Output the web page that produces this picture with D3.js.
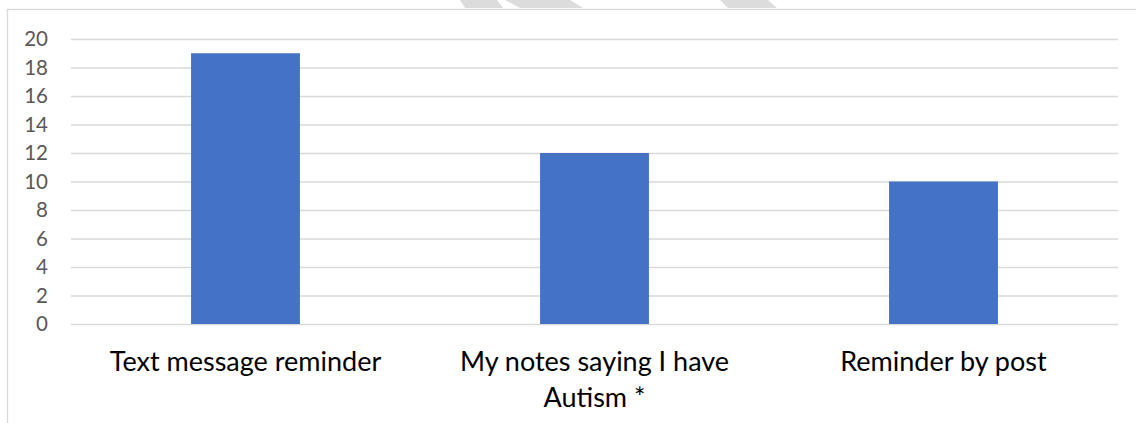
<!DOCTYPE html>
<html><head><meta charset="utf-8">
<script src="https://cdn.jsdelivr.net/npm/d3@7"></script>
<style>html,body{margin:0;padding:0;background:#fff;}svg{display:block;}</style>
</head><body>
<svg id="chart" width="1136" height="423"></svg>
<script>
const categories = [["Text message reminder"], ["My notes saying I have", "Autism *"], ["Reminder by post"]];
const values = [19, 12, 10];
const yTicks = [0, 2, 4, 6, 8, 10, 12, 14, 16, 18, 20];

const svg = d3.select("#chart");
const m = {left: 71, right: 1118, top: 39, bottom: 324};

// watermark fragments
const wm = [[[460,0],[497,0],[503,8],[465,8]],[[505,0],[570,0],[583,8],[520,8]],[[720,0],[768,0],[777,8],[728,8]]];
svg.selectAll("polygon.wm").data(wm).join("polygon").attr("class","wm")
  .attr("points", d => d.map(p => p.join(",")).join(" ")).attr("fill", "#dcdcdc");

// chart area border
svg.append("rect").attr("x", 7.5).attr("y", 9.5).attr("width", 1140).attr("height", 430)
  .attr("fill", "none").attr("stroke", "#d9d9d9").attr("stroke-width", 1.3);

const x = d3.scaleBand().domain(categories.map((c, i) => i)).range([m.left, m.right]).paddingInner(0.688).paddingOuter(0.344);
const y = d3.scaleLinear().domain([0, 20]).range([m.bottom, m.top]);

const yAxis = svg.append("g").attr("transform", `translate(${m.left},0)`)
  .call(d3.axisLeft(y).tickValues(yTicks).tickSize(-(m.right - m.left)).tickPadding(23).tickFormat(d3.format("d")));
yAxis.select(".domain").remove();
yAxis.selectAll(".tick line").attr("stroke", "#d9d9d9").attr("stroke-width", 1.3);
yAxis.selectAll(".tick text").attr("fill", "#595959").style("font-family", "Lato, 'Open Sans', sans-serif").style("font-size", "20.5px");

svg.selectAll("rect.bar").data(values).join("rect").attr("class", "bar")
  .attr("x", (d, i) => x(i)).attr("width", x.bandwidth())
  .attr("y", d => y(d)).attr("height", d => y(0) - y(d))
  .attr("fill", "#4472c4");

const lab = svg.append("g");
categories.forEach((lines, i) => {
  const t = lab.append("text").attr("text-anchor", "middle")
    .style("font-family", "Lato, 'Open Sans', sans-serif").style("font-size", "27px").attr("fill", "#000");
  lines.forEach((ln, j) => {
    t.append("tspan").attr("x", x(i) + x.bandwidth() / 2).attr("y", 371 + j * 36).text(ln);
  });
});
</script>
</body></html>
